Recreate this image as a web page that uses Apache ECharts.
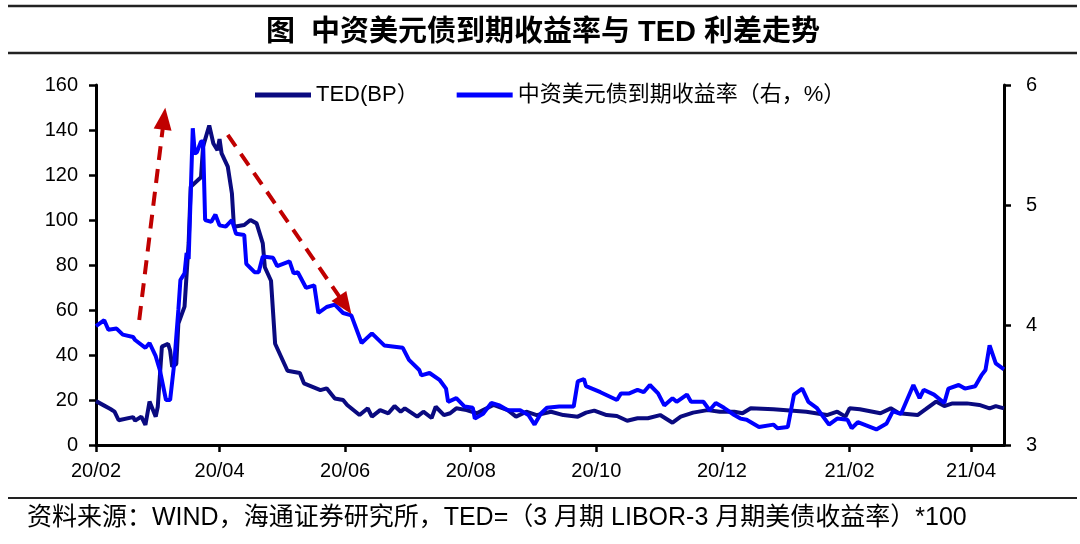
<!DOCTYPE html>
<html>
<head>
<meta charset="utf-8">
<script src="https://cdn.jsdelivr.net/npm/echarts@6/dist/echarts.min.js"></script>
<style>
  html, body { margin: 0; padding: 0; background: #fff; }
  #chart { width: 1080px; height: 544px; }
</style>
</head>
<body>
<div id="chart"></div>
<script>
// 日期轴范围
const startDay = '2020-02-01';
const endDay = '2021-04-17';

// TED 利差（BP）
const tedDates = [
  '2020-02-01', '2020-02-05', '2020-02-08', '2020-02-10', '2020-02-12', '2020-02-19', '2020-02-20',
  '2020-02-23', '2020-02-25', '2020-02-27', '2020-03-01', '2020-03-02', '2020-03-04', '2020-03-07',
  '2020-03-08', '2020-03-09', '2020-03-11', '2020-03-12', '2020-03-15', '2020-03-17', '2020-03-18',
  '2020-03-23', '2020-03-24', '2020-03-27', '2020-03-29', '2020-03-31', '2020-04-01', '2020-04-02',
  '2020-04-05', '2020-04-07', '2020-04-08', '2020-04-13', '2020-04-16', '2020-04-19', '2020-04-22',
  '2020-04-23', '2020-04-26', '2020-04-28', '2020-05-01', '2020-05-04', '2020-05-10', '2020-05-12',
  '2020-05-20', '2020-05-23', '2020-05-27', '2020-05-31', '2020-06-02', '2020-06-08', '2020-06-12',
  '2020-06-14', '2020-06-18', '2020-06-22', '2020-06-25', '2020-06-28', '2020-06-30', '2020-07-06',
  '2020-07-09', '2020-07-13', '2020-07-15', '2020-07-19', '2020-07-22', '2020-07-25', '2020-07-30',
  '2020-08-04', '2020-08-07', '2020-08-12', '2020-08-19', '2020-08-23', '2020-08-28', '2020-09-02',
  '2020-09-09', '2020-09-15', '2020-09-22', '2020-09-26', '2020-09-30', '2020-10-06', '2020-10-11',
  '2020-10-16', '2020-10-21', '2020-10-26', '2020-11-01', '2020-11-07', '2020-11-11', '2020-11-17',
  '2020-11-24', '2020-11-30', '2020-12-07', '2020-12-11', '2020-12-15', '2020-12-26', '2021-01-11',
  '2021-01-21', '2021-01-26', '2021-01-30', '2021-02-01', '2021-02-06', '2021-02-16', '2021-02-21',
  '2021-02-25', '2021-03-06', '2021-03-10', '2021-03-15', '2021-03-19', '2021-03-23', '2021-03-30',
  '2021-04-05', '2021-04-10', '2021-04-13', '2021-04-17'
];
const tedValues = [
  19.5, 17.5, 16, 14.8, 11, 12.4, 10.8,
  12.6, 8.9, 19.3, 12.6, 17, 43.7, 45,
  42, 34.8, 36, 54, 61.5, 90, 114.8,
  119, 132.6, 142, 134, 131, 136, 129.6,
  123.7, 111.9, 97, 97.8, 100, 98.5, 89.6,
  79, 73, 45, 39, 33, 32, 27.4,
  24.4, 25.2, 20.7, 20, 17.8, 13.3, 16.3,
  12.6, 15.5, 14.1, 17.3, 14.8, 16.3, 12.6,
  14.8, 12, 17, 13.3, 14.1, 16.3, 15.5,
  14.1, 15.5, 17.8, 15.5, 12.6, 14.8, 13.3,
  14.8, 13.3, 12.6, 14.4, 15.3, 13.3, 12.9,
  10.8, 11.9, 11.9, 13.3, 9.9, 12.6, 14.4,
  15.5, 14.8, 14.8, 14.1, 16.3, 15.9, 14.8,
  13.3, 14.8, 12.6, 16.3, 15.9, 14.1, 16.3,
  14.1, 13.3, 15.9, 19.3, 17.3, 18.5, 18.5,
  17.8, 16.3, 17.3, 16.3
];

// 中资美元债到期收益率（%）
const yieldDates = [
  '2020-02-01', '2020-02-05', '2020-02-07', '2020-02-11', '2020-02-14', '2020-02-19', '2020-02-20',
  '2020-02-25', '2020-02-27', '2020-03-01', '2020-03-03', '2020-03-06', '2020-03-08', '2020-03-10',
  '2020-03-12', '2020-03-13', '2020-03-15', '2020-03-16', '2020-03-17', '2020-03-19', '2020-03-20',
  '2020-03-21', '2020-03-23', '2020-03-24', '2020-03-25', '2020-03-28', '2020-03-30', '2020-04-01',
  '2020-04-04', '2020-04-07', '2020-04-09', '2020-04-13', '2020-04-14', '2020-04-18', '2020-04-20',
  '2020-04-22', '2020-04-27', '2020-04-29', '2020-05-05', '2020-05-07', '2020-05-09', '2020-05-13',
  '2020-05-17', '2020-05-19', '2020-05-23', '2020-05-27', '2020-05-31', '2020-06-04', '2020-06-09',
  '2020-06-14', '2020-06-20', '2020-06-29', '2020-07-02', '2020-07-07', '2020-07-08', '2020-07-12',
  '2020-07-17', '2020-07-20', '2020-07-21', '2020-07-25', '2020-07-29', '2020-08-02', '2020-08-03',
  '2020-08-07', '2020-08-11', '2020-08-15', '2020-08-19', '2020-08-25', '2020-08-29', '2020-09-01',
  '2020-09-04', '2020-09-07', '2020-09-13', '2020-09-20', '2020-09-22', '2020-09-25', '2020-09-26',
  '2020-10-03', '2020-10-11', '2020-10-13', '2020-10-17', '2020-10-21', '2020-10-24', '2020-10-27',
  '2020-10-31', '2020-11-03', '2020-11-07', '2020-11-09', '2020-11-14', '2020-11-16', '2020-11-22',
  '2020-11-25', '2020-11-28', '2020-12-02', '2020-12-07', '2020-12-10', '2020-12-13', '2020-12-19',
  '2020-12-26', '2020-12-28', '2021-01-02', '2021-01-05', '2021-01-09', '2021-01-12', '2021-01-16',
  '2021-01-22', '2021-01-26', '2021-01-31', '2021-02-02', '2021-02-05', '2021-02-14', '2021-02-19',
  '2021-02-22', '2021-02-26', '2021-03-04', '2021-03-07', '2021-03-09', '2021-03-14', '2021-03-19',
  '2021-03-21', '2021-03-26', '2021-03-29', '2021-04-03', '2021-04-06', '2021-04-08', '2021-04-10',
  '2021-04-13', '2021-04-17'
];
const yieldValues = [
  3.99, 4.04, 3.96, 3.97, 3.92, 3.90, 3.875,
  3.81, 3.85, 3.74, 3.625, 3.375, 3.375, 3.68,
  4.125, 4.375, 4.43, 4.6, 4.55, 5.64, 5.43,
  5.44, 5.53, 5.53, 4.875, 4.86, 4.92, 4.83,
  4.82, 4.875, 4.76, 4.75, 4.51, 4.44, 4.44,
  4.57, 4.56, 4.49, 4.53, 4.43, 4.44, 4.31,
  4.33, 4.10, 4.15, 4.17, 4.10, 4.08, 3.85,
  3.93, 3.83, 3.81, 3.71, 3.625, 3.58, 3.60,
  3.54, 3.47, 3.36, 3.39, 3.32, 3.31, 3.22,
  3.26, 3.35, 3.33, 3.29, 3.29, 3.25, 3.17,
  3.26, 3.31, 3.32, 3.32, 3.53, 3.55, 3.49,
  3.44, 3.375, 3.43, 3.43, 3.46, 3.44, 3.50,
  3.43, 3.33, 3.39, 3.36, 3.42, 3.36, 3.36,
  3.29, 3.35, 3.31, 3.25, 3.22, 3.21, 3.15,
  3.17, 3.14, 3.15, 3.42, 3.47, 3.36, 3.31,
  3.17, 3.22, 3.21, 3.14, 3.19, 3.13, 3.18,
  3.28, 3.26, 3.50, 3.39, 3.46, 3.42, 3.35,
  3.47, 3.50, 3.47, 3.49, 3.58, 3.625, 3.83,
  3.68, 3.63
];

// 红色虚线箭头（起点、终点）
const arrowUp = [['2020-02-22', 55.6], ['2020-03-05', 145]];
const arrowDown = [['2020-04-05', 137.8], ['2020-06-01', 62.2]];

// 每天一个类目
const days = [];
for (let t = Date.parse(startDay); t <= Date.parse(endDay); t += 86400000) {
  days.push(new Date(t).toISOString().slice(0, 10));
}
const isTickDay = (idx, val) => val.slice(8) === '01' && Number(val.slice(5, 7)) % 2 === 0;

const latin = "'Liberation Sans', 'Noto Sans CJK SC', sans-serif";
const axisLine = { show: true, lineStyle: { color: '#000', width: 3 } };
const axisTick = { show: true, inside: false, length: 7, lineStyle: { color: '#000', width: 2.5 } };

const chart = echarts.init(document.getElementById('chart'));

chart.setOption({
  animation: false,
  backgroundColor: '#fff',
  grid: { left: 96, right: 76, top: 85, bottom: 99 },
  legend: {
    left: 250,
    top: 79,
    itemGap: 38,
    itemWidth: 56,
    itemHeight: 5,
    icon: 'rect',
    textStyle: { fontSize: 22, color: '#000', fontFamily: latin }
  },
  graphic: [
    { type: 'line', shape: { x1: 8, y1: 6, x2: 1077, y2: 6 }, style: { stroke: '#222', lineWidth: 2.5 } },
    { type: 'line', shape: { x1: 8, y1: 53, x2: 1077, y2: 53 }, style: { stroke: '#222', lineWidth: 2.5 } },
    { type: 'line', shape: { x1: 8, y1: 498, x2: 1077, y2: 498 }, style: { stroke: '#222', lineWidth: 2 } },
    {
      type: 'text', x: 543, y: 33,
      style: {
        text: '图  中资美元债到期收益率与 TED 利差走势',
        fontSize: 29, fontWeight: 'bold', fill: '#000',
        fontFamily: latin, align: 'center', verticalAlign: 'middle'
      }
    },
    {
      type: 'text', x: 27, y: 518,
      style: {
        text: '资料来源：WIND，海通证券研究所，TED=（3 月期 LIBOR-3 月期美债收益率）*100',
        fontSize: 25, fill: '#000', fontFamily: latin, align: 'left', verticalAlign: 'middle'
      }
    }
  ],
  xAxis: {
    type: 'category',
    data: days,
    boundaryGap: false,
    axisLine: axisLine,
    axisTick: { ...axisTick, interval: isTickDay },
    axisLabel: {
      interval: isTickDay,
      margin: 16,
      fontSize: 20,
      color: '#000',
      fontFamily: latin,
      formatter: v => v.slice(2, 4) + '/' + v.slice(5, 7)
    },
    splitLine: { show: false }
  },
  yAxis: [
    {
      type: 'value',
      min: 0, max: 160, interval: 20,
      axisLine: axisLine,
      axisTick: axisTick,
      axisLabel: { margin: 18, fontSize: 20, color: '#000', fontFamily: latin },
      splitLine: { show: false }
    },
    {
      type: 'value',
      position: 'right',
      min: 3, max: 6, interval: 1,
      axisLine: axisLine,
      axisTick: axisTick,
      axisLabel: { margin: 22, fontSize: 20, color: '#000', fontFamily: latin },
      splitLine: { show: false }
    }
  ],
  series: [
    {
      name: 'TED(BP）',
      type: 'line',
      yAxisIndex: 0,
      showSymbol: false,
      color: '#0a0a80',
      lineStyle: { width: 4, color: '#0a0a80' },
      data: tedDates.map((d, i) => [d, tedValues[i]]),
      markLine: {
        silent: true,
        symbol: ['none', 'triangle'],
        symbolSize: [18, 22],
        label: { show: false },
        lineStyle: { color: '#c00000', width: 4, type: [14, 9] },
        data: [
          [{ coord: arrowUp[0] }, { coord: arrowUp[1] }],
          [{ coord: arrowDown[0] }, { coord: arrowDown[1] }]
        ]
      }
    },
    {
      name: '中资美元债到期收益率（右，%）',
      type: 'line',
      yAxisIndex: 1,
      showSymbol: false,
      color: '#0000ff',
      lineStyle: { width: 4, color: '#0000ff' },
      data: yieldDates.map((d, i) => [d, yieldValues[i]])
    }
  ]
});
</script>
</body>
</html>
